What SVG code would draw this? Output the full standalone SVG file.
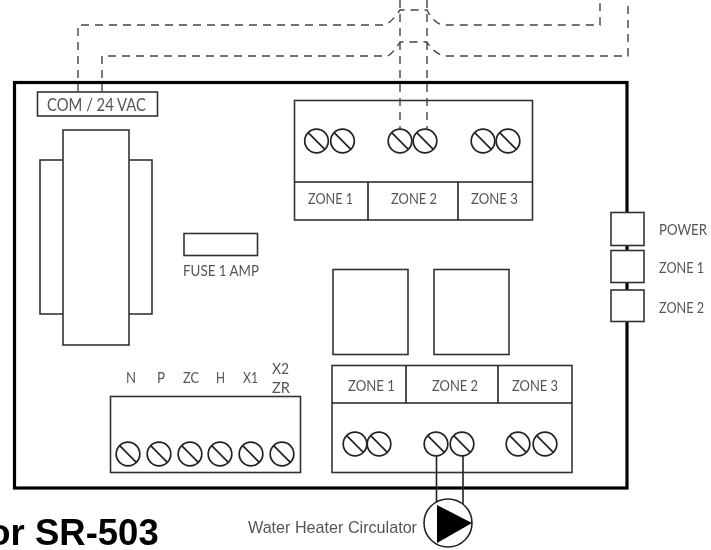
<svg xmlns="http://www.w3.org/2000/svg" width="711" height="550" viewBox="0 0 711 550">
<defs>
<filter id="soft" x="-2%" y="-2%" width="104%" height="104%"><feGaussianBlur stdDeviation="0.45"/></filter>
<g id="screw"><circle r="11.8" class="sc"/><line x1="-8.300" y1="-8.300" x2="8.300" y2="8.300" class="sc"/></g>
</defs>
<style>
text{font-family:"Lato","Liberation Sans",sans-serif;font-size:14.500px;fill:#555;text-anchor:start}
.box{fill:#fff;stroke:#333;stroke-width:1.6}
.sc{fill:#fff;stroke:#222;stroke-width:1.700}
.ln{fill:none;stroke:#222;stroke-width:1.6}
.dash{fill:none;stroke:#444;stroke-width:1.4;stroke-dasharray:8 6}
.board{fill:none;stroke:#000;stroke-width:3.2}
.title{font-family:"Liberation Sans",Arial,sans-serif;font-weight:700;font-size:36.5px;fill:#000}
.cap{font-family:"Liberation Sans",Arial,sans-serif;font-size:17px;fill:#555}
</style>
<rect width="711" height="550" fill="#fff"/>
<g filter="url(#soft)">
<g id="board"><rect x="14.500" y="82.500" width="612.500" height="405.500" class="board"/></g>
<g id="com-label"><rect x="37.500" y="92" width="120" height="24" class="box"/><text x="47" y="111" textLength="99" lengthAdjust="spacingAndGlyphs" style="font-size:17px">COM / 24 VAC</text></g>
<g id="transformer">
<rect x="40" y="160" width="112" height="154" class="box"/>
<rect x="63" y="130" width="66" height="215" class="box"/>
</g>
<g id="fuse"><rect x="184" y="233.500" width="73.500" height="22" class="box"/><text x="183" y="276" textLength="76" lengthAdjust="spacingAndGlyphs" style="font-size:15px">FUSE 1 AMP</text></g>
<g id="terminal-top">
<rect x="294.500" y="100.500" width="238" height="119.500" class="box"/>
<path class="ln" d="M294.500 182H532.500M368 182V220M458 182V220"/>
<use href="#screw" x="316.500" y="141"/><use href="#screw" x="342.500" y="141"/>
<use href="#screw" x="400" y="141"/><use href="#screw" x="425" y="141"/>
<use href="#screw" x="483" y="141"/><use href="#screw" x="508" y="141"/>
<text x="308" y="204" textLength="45" lengthAdjust="spacingAndGlyphs">ZONE 1</text><text x="391" y="204" textLength="46" lengthAdjust="spacingAndGlyphs">ZONE 2</text><text x="471" y="204" textLength="47" lengthAdjust="spacingAndGlyphs">ZONE 3</text>
</g>
<g id="relay-1"><rect x="333" y="269.500" width="75" height="85" class="box"/></g>
<g id="relay-2"><rect x="434" y="269.500" width="75" height="85" class="box"/></g>
<g id="terminal-bottom">
<rect x="332" y="365.500" width="240" height="107" class="box"/>
<path class="ln" d="M332 403H572M406 365.500V403M498 365.500V403"/>
<use href="#screw" x="355" y="444"/><use href="#screw" x="379" y="444"/>
<use href="#screw" x="436" y="444"/><use href="#screw" x="462" y="444"/>
<use href="#screw" x="518" y="444"/><use href="#screw" x="545" y="444"/>
<text x="348" y="391" textLength="47" lengthAdjust="spacingAndGlyphs">ZONE 1</text><text x="432" y="391" textLength="46" lengthAdjust="spacingAndGlyphs">ZONE 2</text><text x="512" y="391" textLength="46" lengthAdjust="spacingAndGlyphs">ZONE 3</text>
</g>
<g id="terminal-left">
<rect x="110.500" y="396.500" width="190" height="76" class="box"/>
<use href="#screw" x="128" y="454"/><use href="#screw" x="159" y="454"/><use href="#screw" x="190" y="454"/>
<use href="#screw" x="220" y="454"/><use href="#screw" x="251" y="454"/><use href="#screw" x="282" y="454"/>
<text x="126" y="383" textLength="10" lengthAdjust="spacingAndGlyphs">N</text><text x="157" y="383" textLength="8" lengthAdjust="spacingAndGlyphs">P</text><text x="183" y="383" textLength="16" lengthAdjust="spacingAndGlyphs">ZC</text><text x="216" y="383" textLength="9" lengthAdjust="spacingAndGlyphs">H</text><text x="243" y="383" textLength="15" lengthAdjust="spacingAndGlyphs">X1</text>
<text x="272" y="374" textLength="17" lengthAdjust="spacingAndGlyphs">X2</text><text x="272" y="393" textLength="18" lengthAdjust="spacingAndGlyphs">ZR</text>
</g>
<g id="led-power"><rect x="611" y="212.500" width="33" height="33" class="box"/><text x="659" y="235" textLength="48" lengthAdjust="spacingAndGlyphs">POWER</text></g>
<g id="led-zone1"><rect x="611" y="250.500" width="33" height="32" class="box"/><text x="659" y="273" textLength="45" lengthAdjust="spacingAndGlyphs">ZONE 1</text></g>
<g id="led-zone2"><rect x="611" y="290" width="33" height="31.500" class="box"/><text x="659" y="313" textLength="45" lengthAdjust="spacingAndGlyphs">ZONE 2</text></g>
<g id="connectors">
<path class="dash" d="M78 92V25H385Q392 22 400 10H427Q433 22 442 25H600V0"/>
<path class="dash" d="M102 92V56H388Q394 52 400 42H427Q433 52 443 56H628V0"/>
<path class="dash" d="M400 0V129"/>
<path class="dash" d="M427 0V129"/>
<path class="ln" d="M436.500 456V506M463 456V506"/>
</g>
<g id="pump">
<circle cx="448" cy="523" r="24" class="ln" style="fill:#fff"/>
<path d="M437 505L472 523L437 543Z" fill="#000"/>
<text class="cap" x="248" y="533" textLength="169" lengthAdjust="spacingAndGlyphs">Water Heater Circulator</text>
</g>
<text class="title" x="-11.700" y="545">or SR-503</text>
</g>
</svg>
